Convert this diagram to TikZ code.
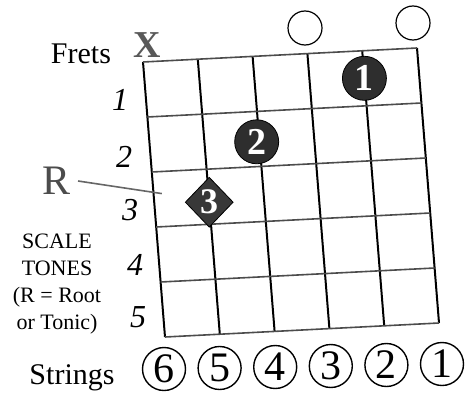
\documentclass[tikz,border=0pt]{standalone}
\usepackage{fontspec}
\setmainfont{Liberation Serif}
\usetikzlibrary{shapes.geometric}

\begin{document}
\begin{tikzpicture}[x=0.5pt, y=-0.5pt,
    stringline/.style={line width=1pt, black},
    fretline/.style={line width=0.8pt, black!70},
    fingerdot/.style={circle, fill=black!82, draw=black, minimum size=22pt, inner sep=0pt, text=white, font=\fontsize{19}{19}\selectfont\bfseries},
    rootdot/.style={diamond, fill=black!78, draw=black, minimum width=24pt, minimum height=25pt, inner sep=-3pt, text=white, font=\fontsize{18}{18}\selectfont\bfseries},
    opendot/.style={circle, draw, line width=0.6pt, minimum size=17pt, inner sep=0pt},
    stringnum/.style={circle, draw, line width=0.7pt, minimum size=21.5pt, inner sep=0pt, font=\fontsize{21}{21}\selectfont},
    fretnum/.style={font=\fontsize{16}{16}\selectfont\itshape},
    side/.style={font=\fontsize{15}{15}\selectfont},
]
  \useasboundingbox (0,0) rectangle (475,401);

  % Fretboard grid (slightly skewed, as scanned)
  \begin{scope}[shift={(143,62)}, x={(27.4pt,1.4pt)}, y={(2.2pt,-27.5pt)}]
    \foreach \s in {0,...,5}
      \draw[stringline] (\s,0) -- (\s,5);
    \foreach \f in {0,...,5}
      \draw[fretline] (0,\f) -- (5,\f);

    \node[fingerdot] (d1) at (4,0.5) {1};
    \node[fingerdot] (d2) at (1.95,1.55) {2};
    \node[rootdot] (d3) at (1,2.6) {3};

    \coordinate (rtip) at (0.15,2.4);
  \end{scope}

  % Above the nut
  \node[font=\fontsize{19}{19}\selectfont\bfseries, text=black!65] (mute) at (147,45) {X};
  \node[opendot] (open3) at (305,28) {};
  \node[opendot] (open1) at (413,23) {};

  % Labels (left)
  \node[side, anchor=east] (frets) at (118,54) {Frets};
  \node[fretnum] (f1) at (120,100) {1};
  \node[fretnum] (f2) at (124,157) {2};
  \node[fretnum] (f3) at (130,210) {3};
  \node[fretnum] (f4) at (135,265) {4};
  \node[fretnum] (f5) at (138,317) {5};

  \node[font=\fontsize{21}{21}\selectfont, text=black!70] (rlab) at (57,181) {R};
  \draw[line width=0.8pt, black!60] (rlab.east) -- (rtip);

  \node[align=center, font=\fontsize{11}{13.5}\selectfont] (tones) at (57,284)
    {SCALE\\TONES\\(R = Root\\or Tonic)};

  % String numbers (bottom)
  \node[side] (strings) at (72,378) {Strings};
  \foreach \n [count=\i from 0] in {6,...,1}
    \node[stringnum] (s\n) at (164+55.6*\i,369-\i) {\n};
\end{tikzpicture}
\end{document}
